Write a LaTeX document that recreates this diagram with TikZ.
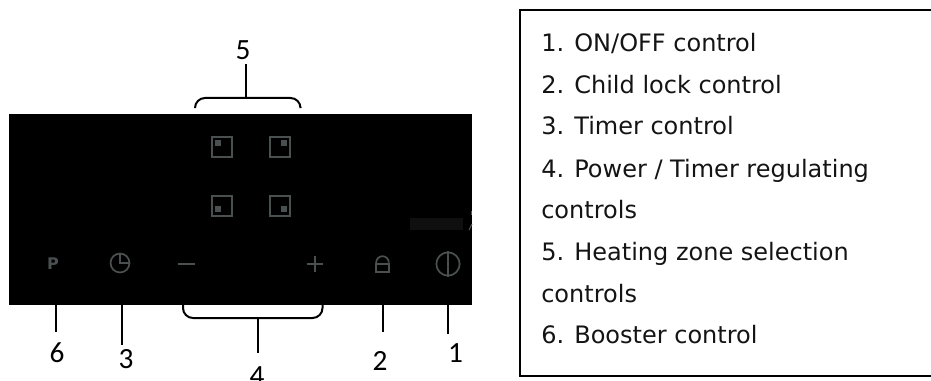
\documentclass[tikz,border=0pt]{standalone}
\usepackage{fontspec}
\setmainfont{DejaVu Sans}
\newfontfamily\numfont{Carlito}
\begin{document}
\begin{tikzpicture}[x=0.75pt,y=-0.75pt,
  lead/.style={line width=1.6pt,black},
  brace/.style={line width=1.5pt,black,rounded corners=7.5pt},
  glyph/.style={draw=iconc,line width=1.3pt},
  dotc/.style={fill=iconc,draw=none,minimum size=4.2pt,inner sep=0pt,outer sep=0pt,rectangle},
  zone/.style={rectangle,draw=iconc,line width=1.4pt,minimum size=15pt,inner sep=0pt,fill=black},
  num/.style={font=\numfont\fontsize{22}{22}\selectfont,inner sep=0pt,text=black},
  item/.style={anchor=base west,inner sep=0pt,font=\fontsize{18}{20}\selectfont,text=black!92}]
\definecolor{iconc}{HTML}{4A4F4F}
\useasboundingbox (0,0) rectangle (931,381);
\clip (0,0) rectangle (931,381);
\fill[white] (0,0) rectangle (931,381);
\node[fill=black,minimum width=347.25pt,minimum height=143.25pt,inner sep=0pt,outer sep=0pt,anchor=north west] (panel) at (9,114) {};
\fill[black!94] (410,218) rectangle (463,230);
\draw[black!65,line width=0.7pt] (469,230) -- (472,224);
\draw[black!65,line width=0.7pt] (471.5,211) -- (471.5,215);
\node[zone] (z1) at (222,147) {};
\node[zone] (z2) at (280,147) {};
\node[zone] (z3) at (222,206) {};
\node[zone] (z4) at (280,206) {};
\node[dotc] at (218,143) {};
\node[dotc] at (284,143) {};
\node[dotc] at (218,209) {};
\node[dotc] at (284,209) {};
\node[inner sep=0pt,text=iconc,font=\bfseries\fontsize{12}{12}\selectfont] (pkey) at (53,264) {P};
\node[circle,draw=iconc,line width=1.3pt,minimum size=14.2pt,inner sep=0pt] (clock) at (120,263) {};
\draw[glyph] (120,254) -- (120,263) -- (129,263);
\coordinate (minusa) at (178,264); \coordinate (minusb) at (195,264);
\draw[glyph] (minusa) -- (minusb);
\coordinate (pluscentre) at (315,264);
\draw[glyph] ([xshift=-6.2pt]pluscentre) -- ([xshift=6.2pt]pluscentre);
\draw[glyph] ([yshift=-6.2pt]pluscentre) -- ([yshift=6.2pt]pluscentre);
\node[rectangle,draw=iconc,line width=1.3pt,minimum width=9.5pt,minimum height=6pt,inner sep=0pt] (lock) at (382.5,268) {};
\draw[glyph] (376.2,264) -- (376.2,262.5) arc[start angle=180,end angle=360,radius=6.3] -- (388.8,261.5);
\node[circle,draw=iconc,line width=1.3pt,minimum size=17.5pt,inner sep=0pt] (power) at (448,264) {};
\draw[glyph] (power.north) -- (power.south);
% leaders
\coordinate (l6) at (56,305); \coordinate (e6) at (56,332);
\coordinate (l3) at (122,305); \coordinate (e3) at (122,345);
\coordinate (l2) at (383,305); \coordinate (e2) at (383,332);
\coordinate (l1) at (448,305); \coordinate (e1) at (448,334);
\draw[lead] (l6) -- (e6); \draw[lead] (l3) -- (e3); \draw[lead] (l2) -- (e2); \draw[lead] (l1) -- (e1);
\coordinate (b4m) at (258,318); \coordinate (e4) at (258,353);
\draw[brace] (183,305) -- (183,318) -- (322.5,318) -- (322.5,305);
\draw[lead] (b4m) -- (e4);
\coordinate (b5m) at (246,98); \coordinate (e5) at (246,64);
\draw[brace] (195,107) -- (195,98) -- (300.5,98) -- (300.5,107);
\draw[lead] (b5m) -- (e5);
\node[num] (n6) at (57,353) {6};
\node[num] (n3) at (126,359) {3};
\node[num] (n4) at (257,376) {4};
\node[num] (n2) at (380,361) {2};
\node[num] (n1) at (455.5,353) {1};
\node[num] (n5) at (243,50) {5};
% legend
\draw[line width=1.5pt] (940,10.5) -- (519.5,10.5) -- (519.5,375.5) -- (940,375.5);
\node[item] (t1) at (541,52) {1. ON/OFF control};
\node[item] (t2) at (541,93.5) {2. Child lock control};
\node[item] (t3) at (541,135) {3. Timer control};
\node[item] (t4) at (541,177) {4. Power / Timer regulating};
\node[item] (t4b) at (541,218.5) {controls};
\node[item] (t5) at (541,260) {5. Heating zone selection};
\node[item] (t5b) at (541,302) {controls};
\node[item] (t6) at (541,343.5) {6. Booster control};
\end{tikzpicture}
\end{document}
